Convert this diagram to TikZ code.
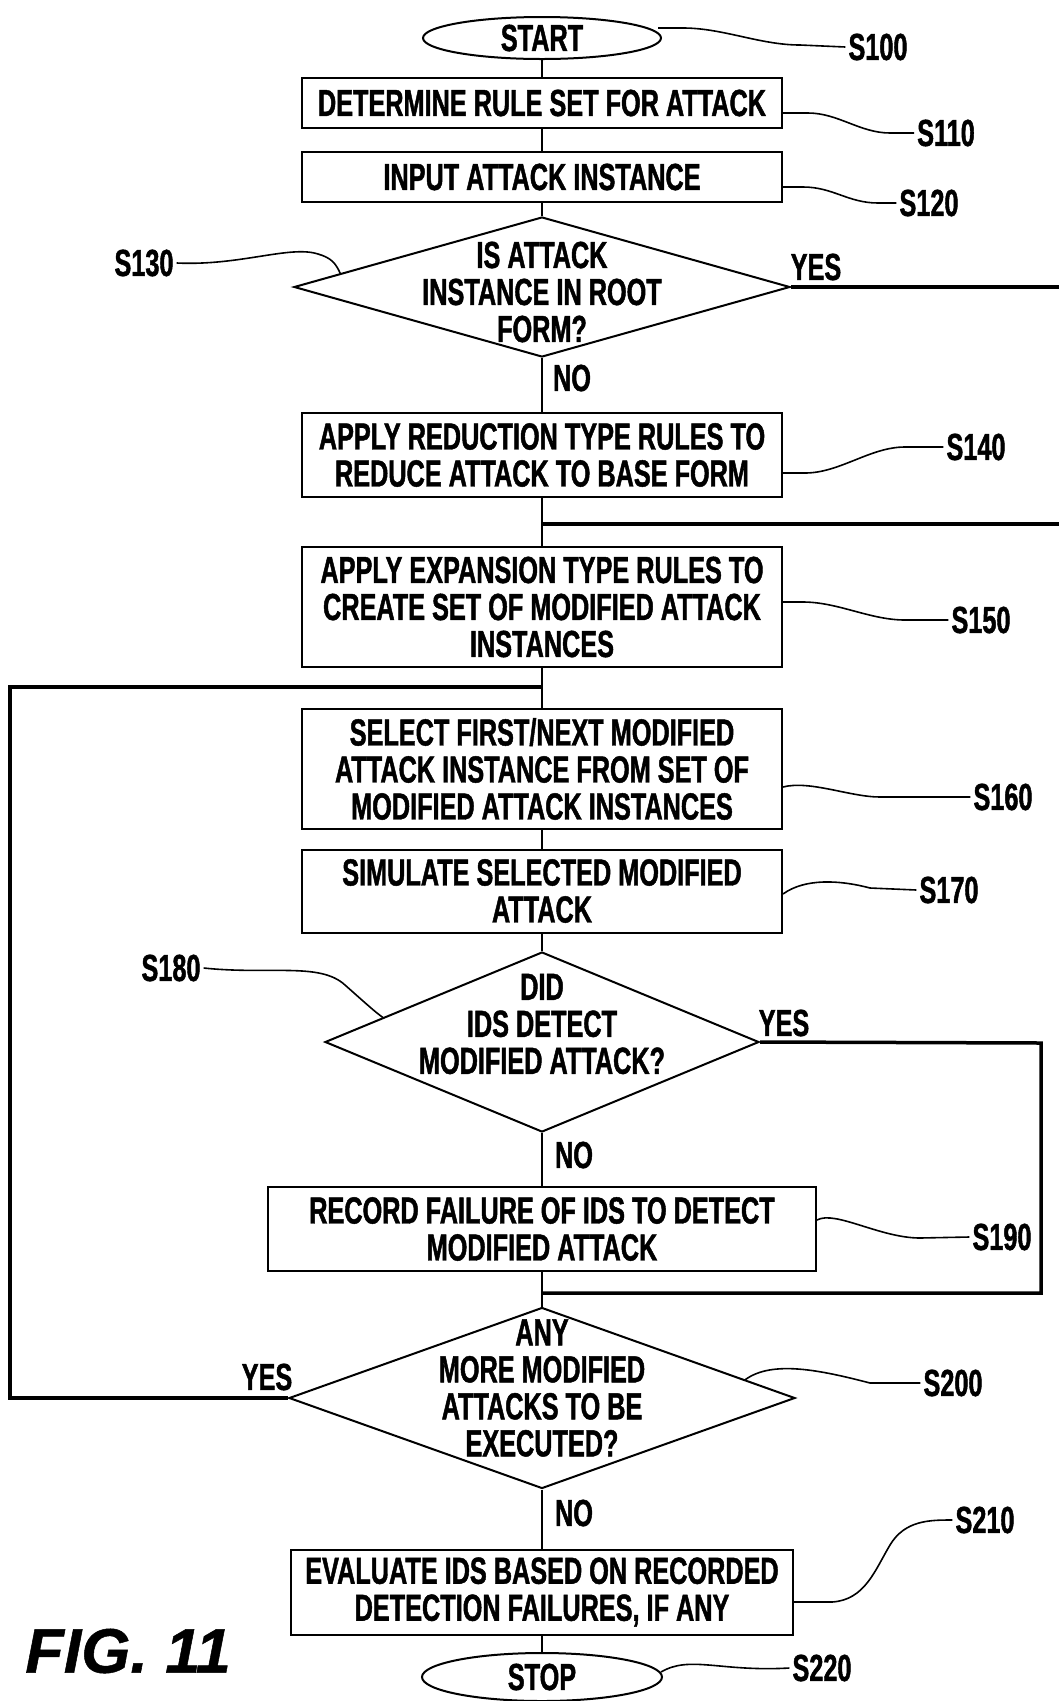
\documentclass[tikz,border=0pt]{standalone}
\usepackage{fontspec}
\newfontfamily\condfont{Liberation Sans}[FakeStretch=0.67,FakeBold=1.2]
\newfontfamily\figfont{Liberation Sans}[FakeBold=0.8]
\usetikzlibrary{shapes.geometric,calc}
\tikzset{
  txt/.style={font=\condfont\bfseries\fontsize{37.7pt}{37pt}\selectfont, inner sep=0pt, align=center},
  stepbox/.style={txt, draw, rectangle, line width=2pt, minimum width=480pt},
  term/.style={txt, draw, ellipse, line width=2pt},
  decision/.style={draw, diamond, line width=2pt, inner sep=0pt},
  lbl/.style={txt, inner sep=3pt},
  flow/.style={line width=2pt},
  loopline/.style={line width=3.5pt},
  leader/.style={line width=1.6pt},
}
\begin{document}
\begin{tikzpicture}[x=1pt,y=-1pt]
\useasboundingbox (0,0) rectangle (1059,1701);
% shapes
\node[term, minimum width=238pt, minimum height=42pt] (start) at (542,38) {START};
\node[stepbox, minimum height=50pt] (b110) at (542,103) {DETERMINE RULE SET FOR ATTACK};
\node[stepbox, minimum height=50pt] (b120) at (542,177) {INPUT ATTACK INSTANCE};
\node[decision, minimum width=496pt, minimum height=140pt] (d130) at (542,287) {};
\node[txt] (t130) at (542,292) {IS ATTACK\\INSTANCE IN ROOT\\FORM?};
\node[stepbox, minimum height=84pt] (b140) at (542,455) {APPLY REDUCTION TYPE RULES TO\\REDUCE ATTACK TO BASE FORM};
\node[stepbox, minimum height=120pt] (b150) at (542,607) {APPLY EXPANSION TYPE RULES TO\\CREATE SET OF MODIFIED ATTACK\\INSTANCES};
\node[stepbox, minimum height=120pt] (b160) at (542,769) {SELECT FIRST/NEXT MODIFIED\\ATTACK INSTANCE FROM SET OF\\MODIFIED ATTACK INSTANCES};
\node[stepbox, minimum height=83pt] (b170) at (542,891) {SIMULATE SELECTED MODIFIED\\ATTACK};
\node[decision, minimum width=434pt, minimum height=180pt] (d180) at (542,1042) {};
\node[txt] (t180) at (542,1024) {DID\\IDS DETECT\\MODIFIED ATTACK?};
\node[stepbox, minimum width=548pt, minimum height=84pt] (b190) at (542,1229) {RECORD FAILURE OF IDS TO DETECT\\MODIFIED ATTACK};
\node[decision, minimum width=506pt, minimum height=181pt] (d200) at (542,1398) {};
\node[txt] (t200) at (542,1388) {ANY\\MORE MODIFIED\\ATTACKS TO BE\\EXECUTED?};
\node[stepbox, minimum width=502pt, minimum height=85pt] (b210) at (542,1592) {EVALUATE IDS BASED ON RECORDED\\DETECTION FAILURES, IF ANY};
\node[term, minimum width=240pt, minimum height=48pt] (stop) at (542,1677) {STOP};
% main flow
\draw[flow] (start) -- (b110);
\draw[flow] (b110) -- (b120);
\draw[flow] (b120) -- (d130);
\draw[flow] (d130) -- (b140);
\draw[flow] (b140) -- (b150);
\draw[flow] (b150) -- (b160);
\draw[flow] (b160) -- (b170);
\draw[flow] (b170) -- (d180);
\draw[flow] (d180) -- (b190);
\draw[flow] (b190) -- (d200);
\draw[flow] (d200) -- (b210);
\draw[flow] (b210) -- (stop);
% branch lines
\coordinate (r130) at (1062,287);
\coordinate (r140) at (1062,524);
\coordinate (j140) at (542,524);
\coordinate (j150) at (542,687);
\coordinate (l150) at (10,687);
\coordinate (l200) at (10,1398);
\coordinate (r180) at (1041,1043);
\coordinate (r190) at (1041,1293);
\coordinate (j190) at (542,1293);
\draw[loopline] (d130.east) -- (r130);
\draw[loopline] (r140) -- (j140);
\draw[loopline] (d200.west) -- (l200) -- (l150) -- (j150);
\draw[loopline] (d180.east) -- (r180) -- (r190) -- (j190);
% yes / no
\node[txt] (yes130) at (816,267) {YES};
\node[txt] (no130) at (572,378) {NO};
\node[txt] (yes180) at (784,1023) {YES};
\node[txt] (no180) at (574,1155) {NO};
\node[txt] (yes200) at (267,1377) {YES};
\node[txt] (no200) at (574,1513) {NO};
% step labels
\node[lbl] (s100) at (878,47) {S100};
\node[lbl] (s110) at (946,133) {S110};
\node[lbl] (s120) at (929,203) {S120};
\node[lbl] (s130) at (144,263) {S130};
\node[lbl] (s140) at (976,447) {S140};
\node[lbl] (s150) at (981,620) {S150};
\node[lbl] (s160) at (1003,797) {S160};
\node[lbl] (s170) at (949,890) {S170};
\node[lbl] (s180) at (171,968) {S180};
\node[lbl] (s190) at (1002,1237) {S190};
\node[lbl] (s200) at (953,1383) {S200};
\node[lbl] (s210) at (985,1520) {S210};
\node[lbl] (s220) at (822,1668) {S220};
% leaders
\coordinate (p100) at ($(start.east)+(-4,-10)$);
\coordinate (p130) at ($(d130.west)!0.19!(d130.north)$);
\coordinate (p180) at ($(d180.west)!0.27!(d180.north)$);
\coordinate (p200) at ($(d200.east)!0.2!(d200.north)$);
\coordinate (p220) at ($(stop.east)+(-2,-5)$);
\draw[leader] (p100) -- ++(25,0) .. controls +(40,0) and +(-40,0) .. (800,45) -- (s100.west);
\draw[leader] ($(b110.east)+(0,10)$) -- ++(25,0) .. controls +(30,0) and +(-30,0) .. (890,133) -- (s110.west);
\draw[leader] ($(b120.east)+(0,10)$) -- ++(20,0) .. controls +(30,0) and +(-30,0) .. (878,203) -- (s120.west);
\draw[leader] (s130.east) .. controls (240,266) and (290,245) .. (318,254) .. controls (332,258) and (336,264) .. (p130);
\draw[leader] ($(b140.east)+(0,18)$) -- ++(22,0) .. controls +(35,0) and +(-35,0) .. (905,447) -- (s140.west);
\draw[leader] ($(b150.east)+(0,-5)$) -- ++(20,0) .. controls +(35,0) and +(-35,0) .. (905,620) -- (s150.west);
\draw[leader] ($(b160.east)+(0,18)$) .. controls (810,780) and (850,797) .. (880,797) -- (s160.west);
\draw[leader] ($(b170.east)+(0,3)$) .. controls (805,878) and (840,880) .. (870,888) -- (s170.west);
\draw[leader] (s180.east) .. controls (270,975) and (320,962) .. (345,985) .. controls (362,1000) and (375,1012) .. (p180);
\draw[leader] ($(b190.east)+(0,-9)$) .. controls (835,1210) and (880,1238) .. (920,1238) -- (s190.west);
\draw[leader] (p200) .. controls (772,1360) and (820,1370) .. (870,1383) -- (s200.west);
\draw[leader] ($(b210.east)+(0,10)$) -- ++(38,0) .. controls (865,1600) and (875,1570) .. (890,1545) .. controls (905,1520) and (930,1520) .. (s210.west);
\draw[leader] (p220) .. controls (690,1655) and (720,1672) .. (s220.west);
% figure caption
\node[font=\figfont\bfseries\itshape\fontsize{63pt}{63pt}\selectfont, inner sep=0pt] (fig) at (128,1651) {FIG. 11};
\end{tikzpicture}
\end{document}
